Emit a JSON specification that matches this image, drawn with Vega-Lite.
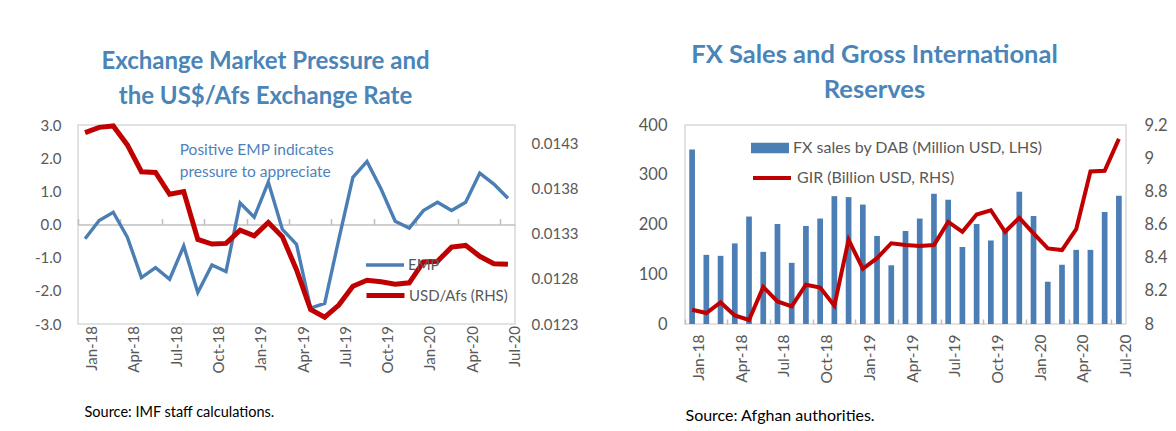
{
  "$schema": "https://vega.github.io/schema/vega-lite/v6.json",
  "background": "white",
  "padding": {"left": 33, "top": 42, "right": 0, "bottom": 0},
  "config": {
    "font": "Lato",
    "view": {"stroke": "#d9d9d9", "strokeWidth": 1.5},
    "axis": {"labelFont": "Lato", "titleFont": "Lato", "labelColor": "#595959", "ticks": false, "domain": false, "grid": false, "labelOverlap": false},
    "legend": {"labelFont": "Lato", "labelColor": "#595959", "padding": 0, "labelLimit": 400},
    "title": {"font": "Lato"},
    "concat": {"spacing": 58}
  },
  "data": {"values": [
    {"m": "Jan-18", "emp": -0.43, "usd": 0.014416, "fx": 351, "gir": 8.086},
    {"m": "Feb-18", "emp": 0.12, "usd": 0.014474, "fx": 139, "gir": 8.066},
    {"m": "Mar-18", "emp": 0.37, "usd": 0.014489, "fx": 137, "gir": 8.13},
    {"m": "Apr-18", "emp": -0.38, "usd": 0.01428, "fx": 162, "gir": 8.052},
    {"m": "May-18", "emp": -1.6, "usd": 0.013983, "fx": 216, "gir": 8.024},
    {"m": "Jun-18", "emp": -1.3, "usd": 0.013976, "fx": 145, "gir": 8.223},
    {"m": "Jul-18", "emp": -1.65, "usd": 0.013734, "fx": 201, "gir": 8.136},
    {"m": "Aug-18", "emp": -0.65, "usd": 0.013763, "fx": 123, "gir": 8.106},
    {"m": "Sep-18", "emp": -2.05, "usd": 0.013235, "fx": 197, "gir": 8.237},
    {"m": "Oct-18", "emp": -1.22, "usd": 0.013184, "fx": 212, "gir": 8.22},
    {"m": "Nov-18", "emp": -1.42, "usd": 0.013191, "fx": 257, "gir": 8.11},
    {"m": "Dec-18", "emp": 0.65, "usd": 0.013338, "fx": 255, "gir": 8.508},
    {"m": "Jan-19", "emp": 0.22, "usd": 0.013275, "fx": 240, "gir": 8.333},
    {"m": "Feb-19", "emp": 1.28, "usd": 0.013422, "fx": 177, "gir": 8.397},
    {"m": "Mar-19", "emp": -0.15, "usd": 0.013264, "fx": 118, "gir": 8.487},
    {"m": "Apr-19", "emp": -0.6, "usd": 0.0129, "fx": 187, "gir": 8.476},
    {"m": "May-19", "emp": -2.52, "usd": 0.01246, "fx": 212, "gir": 8.47},
    {"m": "Jun-19", "emp": -2.38, "usd": 0.012375, "fx": 262, "gir": 8.476},
    {"m": "Jul-19", "emp": -0.45, "usd": 0.012509, "fx": 250, "gir": 8.616},
    {"m": "Aug-19", "emp": 1.42, "usd": 0.012718, "fx": 155, "gir": 8.556},
    {"m": "Sep-19", "emp": 1.9, "usd": 0.012784, "fx": 201, "gir": 8.66},
    {"m": "Oct-19", "emp": 1.07, "usd": 0.012766, "fx": 168, "gir": 8.686},
    {"m": "Nov-19", "emp": 0.1, "usd": 0.01274, "fx": 190, "gir": 8.556},
    {"m": "Dec-19", "emp": -0.11, "usd": 0.012755, "fx": 266, "gir": 8.64},
    {"m": "Jan-20", "emp": 0.42, "usd": 0.012986, "fx": 217, "gir": 8.546},
    {"m": "Feb-20", "emp": 0.67, "usd": 0.012993, "fx": 85, "gir": 8.456},
    {"m": "Mar-20", "emp": 0.42, "usd": 0.01315, "fx": 119, "gir": 8.446},
    {"m": "Apr-20", "emp": 0.67, "usd": 0.013169, "fx": 149, "gir": 8.572},
    {"m": "May-20", "emp": 1.55, "usd": 0.013048, "fx": 149, "gir": 8.92},
    {"m": "Jun-20", "emp": 1.22, "usd": 0.012967, "fx": 225, "gir": 8.924},
    {"m": "Jul-20", "emp": 0.79, "usd": 0.01296, "fx": 258, "gir": 9.116}
  ]},
  "hconcat": [
    {
      "width": 437,
      "height": 199,
      "title": {"text": ["Exchange Market Pressure and", "the US$/Afs Exchange Rate"], "fontSize": 24, "fontWeight": "bold", "color": "#4b85b8", "lineHeight": 35, "anchor": "middle", "frame": "group", "dx": -31, "baseline": "bottom", "offset": -17.5},
      "layer": [
        {
          "layer": [
            {
              "mark": {"type": "line", "strokeWidth": 3.4, "interpolate": "linear"},
              "encoding": {
                "x": {"field": "m", "type": "ordinal", "sort": null, "scale": {"type": "band", "paddingInner": 0, "paddingOuter": 0},
                  "axis": {"values": ["Jan-18","Apr-18","Jul-18","Oct-18","Jan-19","Apr-19","Jul-19","Oct-19","Jan-20","Apr-20","Jul-20"], "bandPosition": 0, "labelOffset": 7, "labelAngle": -90, "labelAlign": "right", "labelBaseline": "middle", "labelFontSize": 15, "offset": -99.5, "domain": true, "domainColor": "#bfbfbf", "domainWidth": 1.5, "ticks": true, "tickSize": -6, "tickColor": "#bfbfbf", "tickWidth": 1.5, "labelPadding": 107, "labelOverlap": false, "title": "Source: IMF staff calculations.", "titleAnchor": "start", "titleAlign": "left", "titleBaseline": "middle", "titleX": 6, "titleY": 188, "titleFontSize": 14.5, "titleFontWeight": "normal", "titleColor": "#000000"}},
                "y": {"field": "emp", "type": "quantitative", "scale": {"domain": [-3, 3], "nice": false},
                  "axis": {"orient": "left", "values": [-3,-2,-1,0,1,2,3], "labelExpr": "datum.value < 0 ? '-' + format(-datum.value, '.1f') : format(datum.value, '.1f')", "labelPadding": 17, "labelFontSize": 15, "labelOverlap": false, "title": null}},
                "color": {"datum": "EMP", "scale": {"range": ["#4a7eb4"]},
                  "legend": {"title": null, "orient": "none", "legendX": 286, "legendY": 119, "symbolType": "stroke", "symbolSize": 1444, "symbolStrokeWidth": 3.5, "labelFontSize": 15, "labelOffset": 2}}
              }
            },
            {
              "data": {"values": [{}]},
              "mark": {"type": "text", "text": ["Positive EMP indicates", "pressure to appreciate"], "align": "left", "baseline": "middle", "lineHeight": 22, "fontSize": 15.5, "color": "#4f81bd", "dx": -4},
              "encoding": {
                "x": {"datum": "Aug-18", "type": "ordinal"},
                "y": {"datum": 2.25, "type": "quantitative", "axis": {"orient": "left", "values": [-3,-2,-1,0,1,2,3], "labelExpr": "datum.value < 0 ? '-' + format(-datum.value, '.1f') : format(datum.value, '.1f')", "labelPadding": 17, "labelFontSize": 15, "labelOverlap": false, "title": null}}
              }
            }
          ]
        },
        {
          "mark": {"type": "line", "strokeWidth": 5, "interpolate": "linear"},
          "encoding": {
            "x": {"field": "m", "type": "ordinal", "sort": null},
            "y": {"field": "usd", "type": "quantitative", "scale": {"domain": [0.0123, 0.0145], "nice": false, "zero": false},
              "axis": {"orient": "right", "values": [0.0123, 0.0128, 0.0133, 0.0138, 0.0143], "format": ".4f", "labelPadding": 16, "labelFontSize": 15, "labelOverlap": false, "title": null}},
            "color": {"datum": "USD/Afs (RHS)", "scale": {"range": ["#c00000"]},
              "legend": {"title": null, "orient": "none", "legendX": 286, "legendY": 149, "symbolType": "stroke", "symbolSize": 1444, "symbolStrokeWidth": 5, "labelFontSize": 15, "labelOffset": 2}}
          }
        }
      ],
      "resolve": {"scale": {"y": "independent", "color": "independent"}}
    },
    {
      "width": 441,
      "height": 199,
      "title": {"text": ["FX Sales and Gross International", "Reserves"], "fontSize": 25.5, "fontWeight": "bold", "color": "#4b85b8", "lineHeight": 35, "anchor": "middle", "frame": "group", "dx": -31, "baseline": "bottom", "offset": -11.5},
      "layer": [
        {
          "mark": {"type": "bar", "width": {"band": 0.4}, "color": "#4a7eb4"},
          "encoding": {
            "x": {"field": "m", "type": "ordinal", "sort": null, "scale": {"type": "band", "paddingInner": 0, "paddingOuter": 0},
              "axis": {"values": ["Jan-18","Apr-18","Jul-18","Oct-18","Jan-19","Apr-19","Jul-19","Oct-19","Jan-20","Apr-20","Jul-20"], "bandPosition": 0, "labelOffset": 7, "labelAngle": -90, "labelAlign": "right", "labelBaseline": "middle", "labelFontSize": 15.5, "ticks": true, "tickSize": -5, "tickColor": "#bfbfbf", "tickWidth": 1.5, "labelPadding": 15, "labelOverlap": false, "title": "Source: Afghan authorities.", "titleAnchor": "start", "titleAlign": "left", "titleBaseline": "middle", "titleX": 0, "titleY": 91, "titleFontSize": 16, "titleFontWeight": "normal", "titleColor": "#000000"}},
            "y": {"field": "fx", "type": "quantitative", "scale": {"domain": [0, 400], "nice": false},
              "axis": {"orient": "left", "values": [0, 100, 200, 300, 400], "labelPadding": 18, "labelFontSize": 16.5, "labelOverlap": false, "title": null}},
            "color": {"datum": "FX sales by DAB (Million USD, LHS)", "scale": {"range": ["#4a7eb4"]},
              "legend": {"title": null, "orient": "none", "legendX": 66, "legendY": 4, "symbolType": "M-1,-0.27L1,-0.27L1,0.27L-1,0.27Z", "symbolSize": 1444, "symbolStrokeWidth": 0, "labelFontSize": 16, "labelOffset": 4}}
          }
        },
        {
          "mark": {"type": "line", "strokeWidth": 4, "interpolate": "linear"},
          "encoding": {
            "x": {"field": "m", "type": "ordinal", "sort": null},
            "y": {"field": "gir", "type": "quantitative", "scale": {"domain": [8, 9.2], "nice": false, "zero": false},
              "axis": {"orient": "right", "values": [8, 8.2, 8.4, 8.6, 8.8, 9, 9.2], "format": ".1~f", "labelPadding": 18, "labelFontSize": 16.5, "labelOverlap": false, "title": null}},
            "color": {"datum": "GIR (Billion USD, RHS)", "scale": {"range": ["#c00000"]},
              "legend": {"title": null, "orient": "none", "legendX": 66, "legendY": 32, "symbolType": "stroke", "symbolSize": 1444, "symbolStrokeWidth": 4, "labelFontSize": 16, "labelOffset": 4}}
          }
        }
      ],
      "resolve": {"scale": {"y": "independent", "color": "independent"}}
    }
  ]
}
